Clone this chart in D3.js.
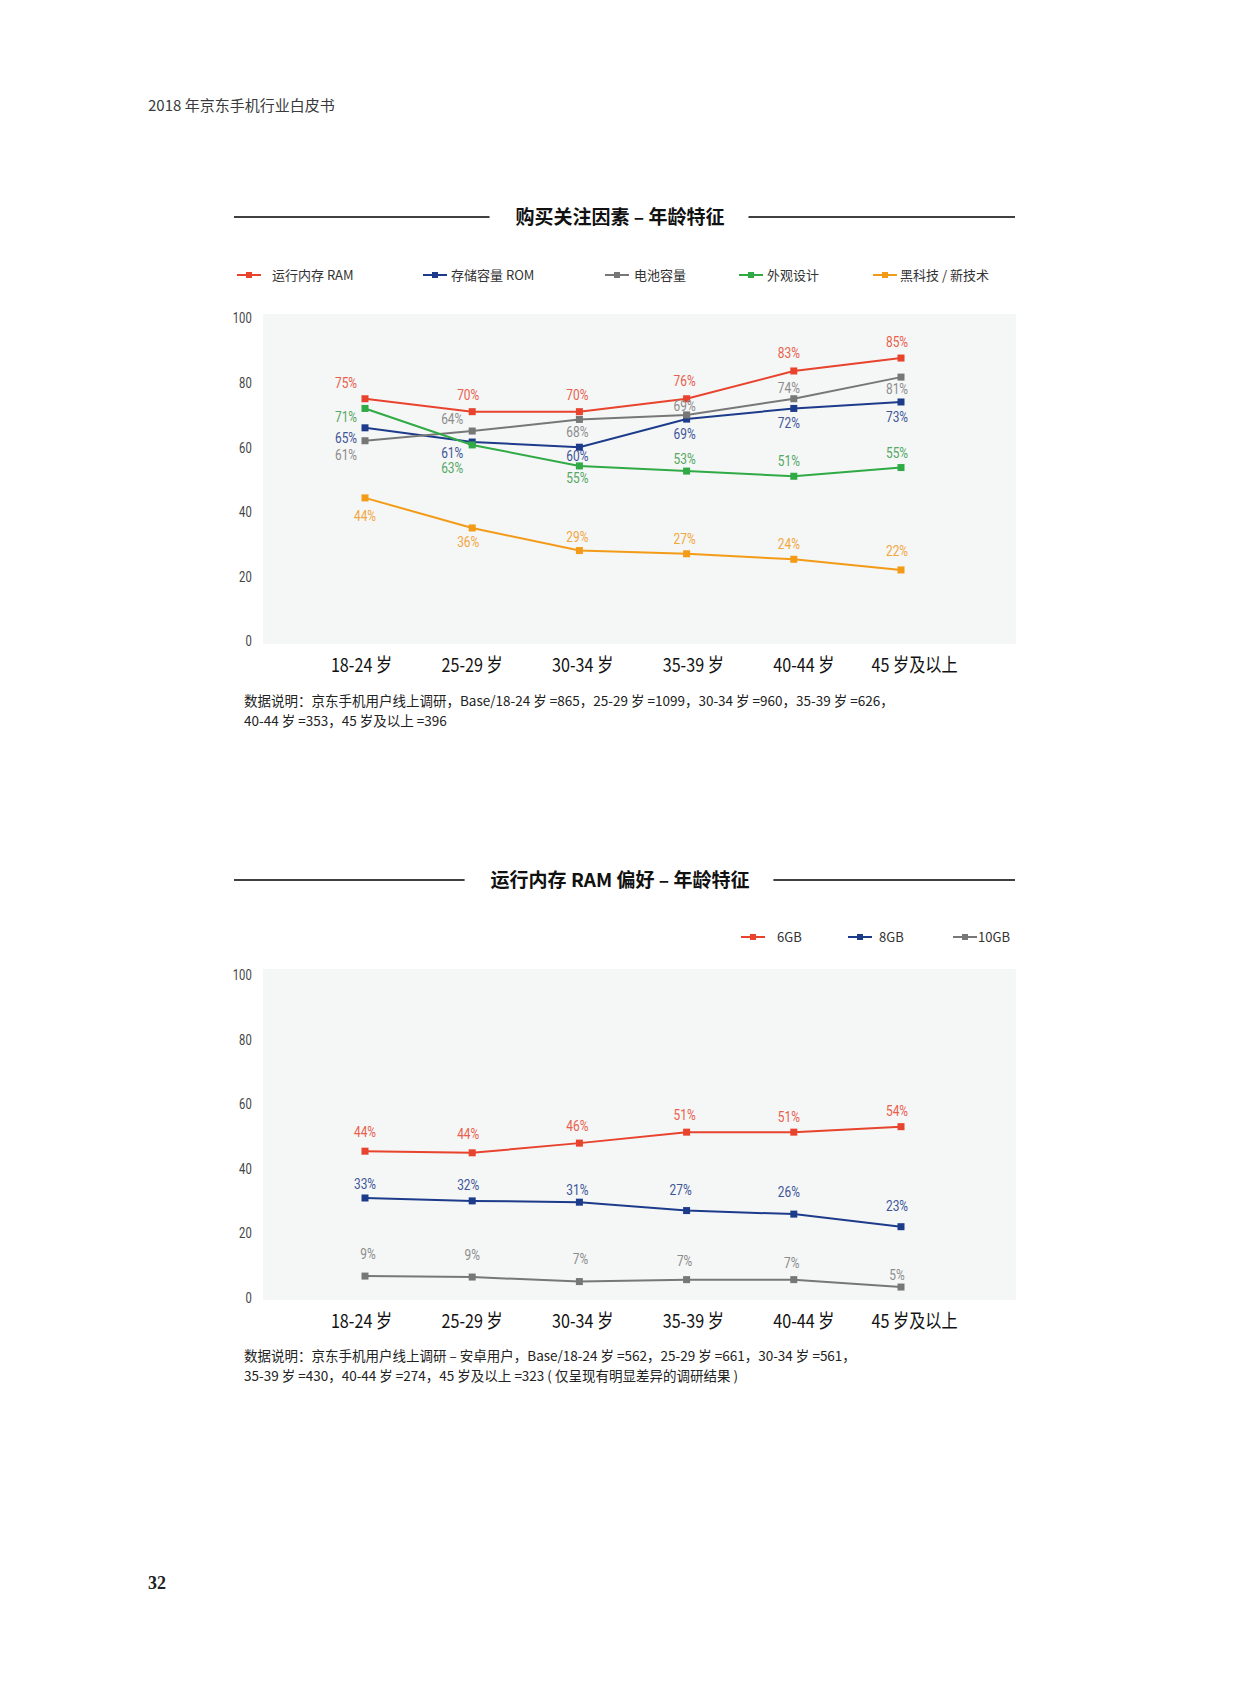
<!DOCTYPE html>
<html lang="zh">
<head>
    <meta charset="UTF-8">
    <title>2018 年京东手机行业白皮书</title>
    <script src="https://d3js.org/d3.v7.min.js"></script>
    <style>
        body { margin: 0; background: #fff; }
        svg { display: block; font-family: "Noto Sans CJK SC", "Noto Sans", sans-serif; }
    </style>
</head>
<body>
<script>
    // ---- data ----
    const ageGroups = ["18-24 岁", "25-29 岁", "30-34 岁", "35-39 岁", "40-44 岁", "45 岁及以上"];
    const yTicks = [0, 20, 40, 60, 80, 100];

    // 购买关注因素 (marker heights, labels as printed)
    const ramValues = [75, 71, 71, 75, 83.6, 87.6];
    const ramLabels = ["75%", "70%", "70%", "76%", "83%", "85%"];
    const romValues = [66, 61.6, 60, 68.7, 72, 74];
    const romLabels = ["65%", "61%", "60%", "69%", "72%", "73%"];
    const batteryValues = [62, 65, 68.6, 70, 75, 81.7];
    const batteryLabels = ["61%", "64%", "68%", "69%", "74%", "81%"];
    const designValues = [72, 60.7, 54.2, 52.6, 51, 53.7];
    const designLabels = ["71%", "63%", "55%", "53%", "51%", "55%"];
    const techValues = [44.3, 35, 28, 27, 25.3, 22];
    const techLabels = ["44%", "36%", "29%", "27%", "24%", "22%"];

    // 运行内存 RAM 偏好
    const gb6Values = [45.4, 44.9, 47.9, 51.3, 51.3, 53];
    const gb6Labels = ["44%", "44%", "46%", "51%", "51%", "54%"];
    const gb8Values = [30.9, 30, 29.6, 27, 25.9, 22];
    const gb8Labels = ["33%", "32%", "31%", "27%", "26%", "23%"];
    const gb10Values = [6.7, 6.4, 5, 5.6, 5.6, 3.3];
    const gb10Labels = ["9%", "9%", "7%", "7%", "7%", "5%"];

    const note1 = ["数据说明：京东手机用户线上调研，Base/18-24 岁 =865，25-29 岁 =1099，30-34 岁 =960，35-39 岁 =626，",
                   "40-44 岁 =353，45 岁及以上 =396"];
    const note2 = ["数据说明：京东手机用户线上调研 – 安卓用户，Base/18-24 岁 =562，25-29 岁 =661，30-34 岁 =561，",
                   "35-39 岁 =430，40-44 岁 =274，45 岁及以上 =323 ( 仅呈现有明显差异的调研结果 )"];

    // ---- colours ----
    const C = {
        red: ["#e8432d", "#e8604c"],
        blue: ["#1d3b8b", "#3d5597"],
        gray: ["#777777", "#8c8c8c"],
        green: ["#2faa45", "#53a862"],
        orange: ["#f39b16", "#f2a640"]
    };

    const svg = d3.select("body").append("svg")
        .attr("width", 1240)
        .attr("height", 1683);

    // page header + footer
    svg.append("text")
        .attr("x", 148).attr("y", 111)
        .attr("font-size", 15).attr("fill", "#3a3a3a")
        .text("2018 年京东手机行业白皮书");

    svg.append("text")
        .attr("x", 148).attr("y", 1589)
        .attr("font-family", "'Liberation Serif', serif")
        .attr("font-size", 18).attr("font-weight", "bold").attr("fill", "#222")
        .text("32");

    function drawChart(cfg) {
        const g = svg.append("g");

        // title with rules
        const title = g.append("text")
            .attr("x", 620).attr("y", cfg.titleY)
            .attr("dy", "0.35em")
            .attr("text-anchor", "middle")
            .attr("font-size", 19).attr("font-weight", "bold").attr("fill", "#111")
            .text(cfg.title);
        const bb = title.node().getBBox();
        g.append("line").attr("x1", 234).attr("x2", bb.x - 26)
            .attr("y1", cfg.titleY).attr("y2", cfg.titleY)
            .attr("stroke", "#000").attr("stroke-width", 1.5);
        g.append("line").attr("x1", bb.x + bb.width + 24).attr("x2", 1015)
            .attr("y1", cfg.titleY).attr("y2", cfg.titleY)
            .attr("stroke", "#000").attr("stroke-width", 1.5);

        // legend
        const leg = g.selectAll(".leg").data(cfg.series).enter().append("g")
            .attr("transform", (d, i) => `translate(${cfg.legendX[i]},${cfg.legendY})`);
        leg.append("line").attr("x1", 0).attr("x2", 24)
            .attr("stroke", d => d.color[0]).attr("stroke-width", 2);
        leg.append("rect").attr("x", 9).attr("y", -3).attr("width", 6).attr("height", 6)
            .attr("fill", d => d.color[0]);
        leg.append("text")
            .attr("x", (d, i) => cfg.legendTx[i])
            .attr("dy", "0.35em")
            .attr("font-size", 13).attr("fill", "#333")
            .text(d => d.name);

        // plot background
        g.append("rect")
            .attr("x", 263).attr("y", cfg.bg[0])
            .attr("width", 1016 - 263).attr("height", cfg.bg[1] - cfg.bg[0])
            .attr("fill", "#f5f6f6");

        const x = d3.scalePoint().domain(ageGroups).range([365, 901]);
        const xLab = d3.scalePoint().domain(ageGroups).range([361, 914]);
        const y = d3.scaleLinear().domain([0, 100]).range(cfg.yRange);

        // y axis
        const ya = g.append("g")
            .attr("transform", "translate(254,0)")
            .call(d3.axisLeft(y).tickValues(yTicks).tickSize(0).tickPadding(3));
        ya.select(".domain").remove();
        ya.selectAll("text")
            .attr("font-family", "Roboto, sans-serif")
            .attr("font-size", 15).attr("fill", "#444")
            .attr("transform", "scale(0.75,1)");

        // x axis
        const xa = g.append("g")
            .attr("transform", `translate(0,${cfg.xAxisY})`)
            .call(d3.axisBottom(xLab).tickSize(0).tickPadding(0));
        xa.select(".domain").remove();
        xa.selectAll("text")
            .attr("y", 0).attr("dy", "0.35em")
            .attr("font-family", "'Noto Sans CJK SC', sans-serif")
            .attr("font-size", 19).attr("fill", "#111")
            .attr("transform", "scale(0.85,1)")
            .attr("x", 0);

        const line = d3.line().x((d, i) => x(ageGroups[i])).y(d => y(d));

        cfg.series.forEach(s => {
            g.append("path")
                .datum(s.values)
                .attr("fill", "none")
                .attr("stroke", s.color[0])
                .attr("stroke-width", 2)
                .attr("d", line);

            g.selectAll(null).data(s.values).enter().append("rect")
                .attr("x", (d, i) => x(ageGroups[i]) - 3.5)
                .attr("y", d => y(d) - 3.5)
                .attr("width", 7).attr("height", 7)
                .attr("fill", s.color[0]);

            g.selectAll(null).data(s.values).enter().append("text")
                .attr("transform", (d, i) =>
                    `translate(${x(ageGroups[i]) + s.off[i][0]},${y(d) + s.off[i][1]}) scale(0.85,1)`)
                .attr("dy", "0.35em")
                .attr("text-anchor", "middle")
                .attr("font-family", "Roboto, sans-serif")
                .attr("font-size", 14)
                .attr("fill", s.color[1])
                .text((d, i) => s.labels[i]);
        });

        // note
        g.selectAll(".note").data(cfg.notes).enter().append("text")
            .attr("x", 244)
            .attr("y", (d, i) => cfg.noteY + i * 20)
            .attr("dy", "0.35em")
            .attr("font-size", 13.5).attr("fill", "#222")
            .text(d => d);
    }

    drawChart({
        title: "购买关注因素 – 年龄特征",
        titleY: 217,
        legendY: 275,
        legendX: [237, 423, 605, 739, 873],
        legendTx: [35, 28, 29, 28, 27],
        bg: [314, 644],
        yRange: [641, 318],
        xAxisY: 665,
        noteY: 701,
        notes: note1,
        series: [
            { name: "运行内存 RAM", color: C.red, values: ramValues, labels: ramLabels,
              off: [[-19, -16], [-4, -17], [-2, -17], [-2, -18], [-5, -18], [-4, -16]] },
            { name: "存储容量 ROM", color: C.blue, values: romValues, labels: romLabels,
              off: [[-19, 10], [-20, 11], [-2, 9], [-2, 15], [-5, 15], [-4, 15]] },
            { name: "电池容量", color: C.gray, values: batteryValues, labels: batteryLabels,
              off: [[-19, 14], [-20, -12], [-2, 13], [-2, -9], [-5, -11], [-4, 12]] },
            { name: "外观设计", color: C.green, values: designValues, labels: designLabels,
              off: [[-19, 9], [-20, 23], [-2, 12], [-2, -12], [-5, -15], [-4, -14]] },
            { name: "黑科技 / 新技术", color: C.orange, values: techValues, labels: techLabels,
              off: [[0, 18], [-4, 14], [-2, -13], [-2, -15], [-5, -15], [-4, -19]] }
        ]
    });

    drawChart({
        title: "运行内存 RAM 偏好 – 年龄特征",
        titleY: 880,
        legendY: 937,
        legendX: [741, 848, 953],
        legendTx: [36, 31, 25],
        bg: [969, 1300],
        yRange: [1297.7, 975],
        xAxisY: 1321,
        noteY: 1356,
        notes: note2,
        series: [
            { name: "6GB", color: C.red, values: gb6Values, labels: gb6Labels,
              off: [[0, -19], [-4, -19], [-2, -17], [-2, -17], [-5, -15], [-4, -16]] },
            { name: "8GB", color: C.blue, values: gb8Values, labels: gb8Labels,
              off: [[0, -14], [-4, -16], [-2, -12], [-6, -20], [-5, -22], [-4, -21]] },
            { name: "10GB", color: C.gray, values: gb10Values, labels: gb10Labels,
              off: [[3, -22], [0, -22], [1, -22], [-2, -19], [-2, -17], [-4, -12]] }
        ]
    });
</script>
</body>
</html>
